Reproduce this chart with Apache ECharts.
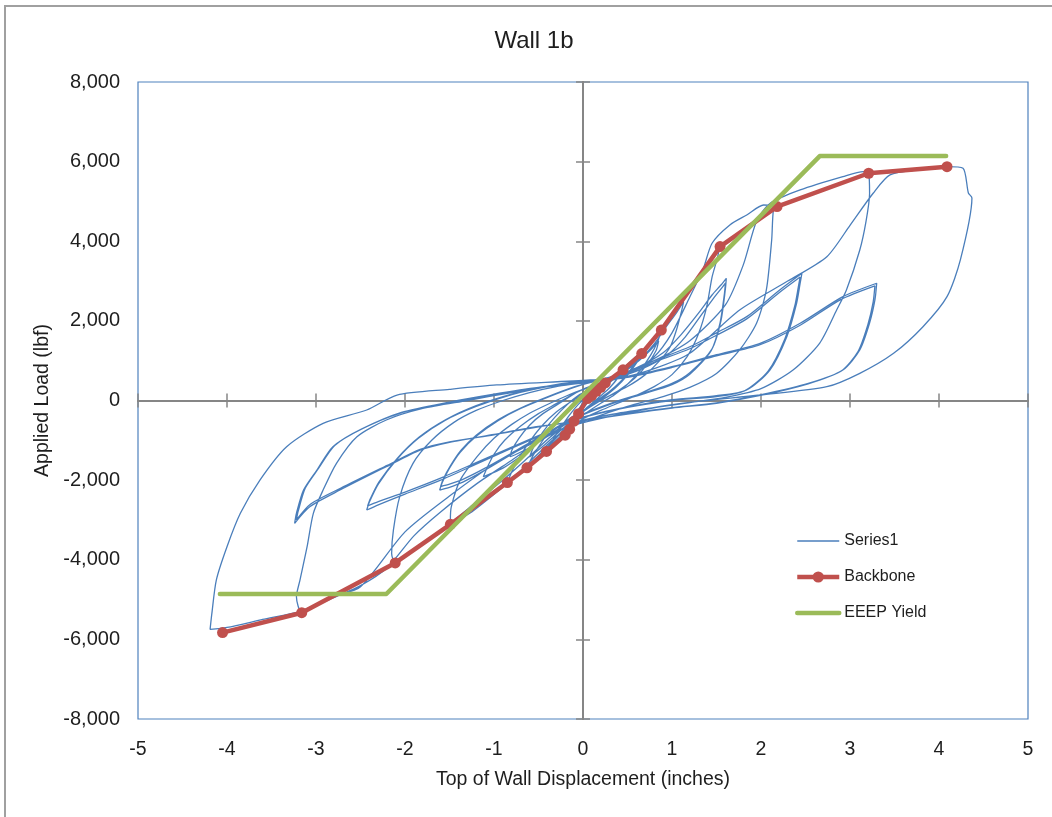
<!DOCTYPE html>
<html>
<head>
<meta charset="utf-8">
<script src="https://cdn.jsdelivr.net/npm/echarts@6/dist/echarts.min.js"></script>
<style>
html,body{margin:0;padding:0;background:#fff;}
#frame{position:absolute;left:4px;top:5px;width:1100px;height:900px;border-left:2px solid #a0a0a0;border-top:2px solid #a0a0a0;}
#chart{position:absolute;left:0;top:0;width:1052px;height:817px;}
</style>
</head>
<body>
<div id="frame"></div>
<div id="chart"></div>
<script>
// ---- Data ----
const chartTitle = "Wall 1b";
const xAxisName = "Top of Wall Displacement (inches)";
const yAxisName = "Applied Load (lbf)";
const seriesNames = ["Series1", "Backbone", "EEEP Yield"];

// Series1: hysteresis trace, cycle by cycle [displacement (in), load (lbf)]
const cycle01 = [[0,0],[0.03,40],[0.06,80],[0.1,130],[0.07,60],[0.03,-30],[0,-120],[-0.05,-330],[-0.1,-520],[-0.07,-380],[-0.03,-180],[0,-30]];
const cycle02 = [[0.05,60],[0.1,130],[0.15,230],[0.2,330],[0.15,190],[0.08,30],[0.02,-110],[-0.05,-360],[-0.1,-550],[-0.15,-700],[-0.11,-500],[-0.05,-240],[0,-50]];
const cycle03 = [[0.06,90],[0.13,180],[0.2,320],[0.25,440],[0.2,290],[0.12,100],[0.04,-90],[-0.04,-310],[-0.12,-610],[-0.2,-870],[-0.15,-630],[-0.08,-330],[0,-70]];
const cycle04 = [[0.08,90],[0.18,230],[0.3,450],[0.38,610],[0.45,770],[0.4,590],[0.3,320],[0.2,120],[0.1,-70],[0,-260],[-0.1,-510],[-0.22,-810],[-0.32,-1060],[-0.41,-1280],[-0.35,-1030],[-0.25,-680],[-0.15,-360],[-0.05,-90]];
const cycle05 = [[0.05,110],[0.15,260],[0.28,460],[0.4,660],[0.52,880],[0.6,1040],[0.66,1180],[0.6,940],[0.5,640],[0.38,350],[0.25,110],[0.12,-90],[0,-290],[-0.12,-530],[-0.25,-830],[-0.4,-1160],[-0.52,-1430],[-0.63,-1690],[-0.56,-1380],[-0.46,-1030],[-0.33,-630],[-0.2,-290],[-0.08,10]];
const cycle06 = [[0.03,200],[0.15,330],[0.3,510],[0.45,750],[0.6,1030],[0.72,1310],[0.8,1530],[0.88,1770],[0.84,1490],[0.76,1140],[0.64,750],[0.5,410],[0.35,140],[0.2,-70],[0.05,-290],[-0.1,-530],[-0.25,-810],[-0.4,-1110],[-0.55,-1430],[-0.7,-1760],[-0.85,-2060],[-0.79,-1740],[-0.7,-1370],[-0.58,-970],[-0.45,-610],[-0.3,-290],[-0.15,-50],[0,160]];
const cycle07 = [[0.12,300],[0.25,460],[0.4,700],[0.52,950],[0.62,1150],[0.6,990],[0.52,730],[0.42,470],[0.3,230],[0.15,-10],[0,-270],[-0.15,-550],[-0.3,-850],[-0.45,-1150],[-0.6,-1420],[-0.55,-1140],[-0.45,-790],[-0.32,-430],[-0.18,-110],[-0.05,130]];
const cycle08 = [[0.1,300],[0.3,520],[0.5,800],[0.7,1250],[0.88,1800],[1.05,2300],[1.2,2800],[1.35,3300],[1.45,3600],[1.54,3865],[1.5,3500],[1.45,3100],[1.39,2360],[1.3,1690],[1.17,1100],[1.0,650],[0.8,350],[0.6,130],[0.4,-60],[0.2,-250],[0,-460],[-0.2,-800],[-0.4,-1200],[-0.6,-1600],[-0.85,-2080],[-1.05,-2450],[-1.25,-2800],[-1.4,-3000],[-1.49,-3110],[-1.49,-3000],[-1.48,-2670],[-1.38,-2000],[-1.19,-1410],[-1.0,-950],[-0.8,-600],[-0.6,-320],[-0.4,-100],[-0.2,100],[0,280]];
const cycle09 = [[0.2,420],[0.4,640],[0.6,950],[0.8,1420],[0.95,1900],[1.05,2200],[1.13,2480],[1.11,2270],[1.05,1770],[0.98,1350],[0.87,1020],[0.7,650],[0.5,350],[0.3,120],[0.1,-120],[-0.1,-380],[-0.3,-700],[-0.5,-1050],[-0.7,-1400],[-0.9,-1700],[-1.05,-1850],[-1.12,-1915],[-1.08,-1700],[-1.0,-1350],[-0.88,-1000],[-0.7,-640],[-0.5,-330],[-0.3,-80],[-0.1,170],[0.05,330]];
const cycle10 = [[0.2,430],[0.4,650],[0.6,950],[0.75,1250],[0.85,1500],[0.82,1250],[0.72,900],[0.58,560],[0.4,250],[0.2,0],[0,-280],[-0.2,-600],[-0.4,-900],[-0.6,-1180],[-0.75,-1350],[-0.82,-1412],[-0.8,-1250],[-0.72,-950],[-0.6,-620],[-0.45,-330],[-0.25,-50],[-0.05,230]];
const cycle11 = [[0.2,420],[0.5,650],[0.8,1100],[1.0,1700],[1.2,2600],[1.35,3300],[1.45,3950],[1.65,4410],[1.84,4660],[2.03,4910],[2.18,4870],[2.14,4786],[2.12,4033],[2.06,2776],[1.95,1940],[1.76,1270],[1.5,680],[1.2,330],[0.9,100],[0.5,-150],[0.1,-450],[-0.3,-800],[-0.6,-1400],[-0.9,-2000],[-1.2,-2550],[-1.5,-3100],[-1.8,-3600],[-2.0,-3900],[-2.11,-4080],[-2.15,-3840],[-2.13,-3250],[-2.06,-2420],[-1.91,-1580],[-1.7,-1000],[-1.45,-550],[-1.2,-250],[-0.9,0],[-0.6,200],[-0.3,350],[0,450]];
const cycle12 = [[0.3,580],[0.6,820],[0.9,1200],[1.1,1650],[1.3,2200],[1.45,2650],[1.55,2900],[1.61,3070],[1.6,2800],[1.55,2000],[1.45,1300],[1.2,700],[1.0,430],[0.7,200],[0.4,0],[0.1,-250],[-0.2,-550],[-0.5,-950],[-0.8,-1350],[-1.1,-1750],[-1.35,-2050],[-1.5,-2180],[-1.61,-2249],[-1.58,-2050],[-1.5,-1700],[-1.38,-1300],[-1.2,-900],[-0.95,-500],[-0.7,-200],[-0.4,80],[-0.1,330],[0.1,460]];
const cycle13 = [[0.35,560],[0.65,780],[0.95,1150],[1.15,1600],[1.32,2120],[1.47,2580],[1.56,2830],[1.6,2950],[1.59,2700],[1.54,1950],[1.44,1250],[1.2,660],[1.0,400],[0.7,180],[0.4,-20],[0.1,-270],[-0.2,-560],[-0.5,-930],[-0.8,-1320],[-1.1,-1700],[-1.35,-1980],[-1.5,-2100],[-1.6,-2160],[-1.57,-1970],[-1.49,-1640],[-1.37,-1250],[-1.2,-870],[-0.95,-480],[-0.7,-190],[-0.4,90],[-0.1,340],[0.1,470]];
const cycle14 = [[0.4,650],[0.8,1000],[1.2,1500],[1.6,2400],[1.8,3400],[1.95,4500],[2.1,4950],[2.44,5290],[2.92,5624],[3.15,5750],[3.21,5708],[3.22,5200],[3.18,4500],[3.11,3780],[2.96,2776],[2.85,2274],[2.66,1444],[2.36,766],[2.0,300],[1.6,80],[1.2,-50],[0.8,-180],[0.4,-320],[0,-500],[-0.4,-900],[-0.8,-1500],[-1.2,-2100],[-1.6,-2800],[-1.9,-3400],[-2.2,-4200],[-2.5,-4650],[-2.8,-4950],[-3.0,-5150],[-3.16,-5330],[-3.22,-4930],[-3.18,-4510],[-3.1,-3673],[-3.03,-2834],[-2.92,-2249],[-2.77,-1578],[-2.54,-910],[-2.21,-490],[-1.8,-200],[-1.3,0],[-0.8,200],[-0.3,380],[0,480]];
const cycle15 = [[0.4,620],[0.8,1000],[1.2,1350],[1.5,1700],[1.84,2106],[2.21,2776],[2.46,3196],[2.44,2945],[2.4,2443],[2.29,1604],[2.1,766],[1.84,264],[1.5,120],[1.0,20],[0.5,-160],[0,-420],[-0.4,-800],[-0.8,-1200],[-1.2,-1600],[-1.6,-2000],[-2.0,-2350],[-2.3,-2620],[-2.43,-2751],[-2.4,-2550],[-2.3,-2100],[-2.1,-1500],[-1.85,-950],[-1.55,-500],[-1.2,-150],[-0.8,150],[-0.4,350],[0,480]];
const cycle16 = [[0.4,600],[0.8,960],[1.2,1300],[1.5,1640],[1.84,2050],[2.2,2700],[2.44,3100],[2.42,2860],[2.38,2380],[2.27,1560],[2.08,740],[1.82,250],[1.5,100],[1.0,0],[0.5,-170],[0,-430],[-0.4,-790],[-0.8,-1170],[-1.2,-1560],[-1.6,-1950],[-2.0,-2300],[-2.3,-2540],[-2.42,-2650],[-2.39,-2470],[-2.29,-2040],[-2.09,-1460],[-1.84,-920],[-1.54,-480],[-1.2,-130],[-0.8,160],[-0.4,360],[0,490]];
const cycle17 = [[0.4,560],[0.8,800],[1.2,1186],[1.76,2274],[2.3,3000],[2.74,3613],[3.0,4400],[3.26,5206],[3.45,5666],[3.8,5800],[4.09,5874],[4.27,5834],[4.33,5213],[4.37,5088],[4.24,3530],[4.09,2608],[3.82,1854],[3.49,1186],[3.11,683],[2.74,347],[1.99,138],[0.98,-113],[-0.03,-573],[-0.5,-1000],[-1.0,-1600],[-1.5,-2400],[-2.0,-3300],[-2.5,-4680],[-2.8,-4930],[-3.17,-5290],[-3.6,-5500],[-4.0,-5700],[-4.19,-5749],[-4.17,-5347],[-4.12,-4510],[-4.0,-3673],[-3.85,-2834],[-3.63,-1997],[-3.33,-1160],[-2.92,-573],[-2.43,-239],[-2.09,138],[-1.5,280],[-0.97,390],[0.08,515]];
const cycle18 = [[0.5,600],[1.0,850],[1.5,1150],[1.99,1437],[2.44,1940],[2.92,2608],[3.3,2945],[3.28,2525],[3.22,1945],[3.11,1270],[2.92,766],[2.55,440],[1.99,138],[1.5,-60],[1.0,-180],[0.5,-330],[0,-500],[-0.5,-650],[-1.0,-850],[-1.5,-1050],[-1.83,-1244],[-2.21,-1663],[-2.73,-2249],[-3.07,-2668],[-3.24,-3085],[-3.22,-2834],[-3.14,-2249],[-2.99,-1746],[-2.81,-1160],[-2.51,-741],[-2.06,-322],[-1.5,-50],[-1.0,150],[-0.5,320],[0,450]];
const cycle19 = [[0.5,580],[1.0,830],[1.5,1120],[1.99,1400],[2.44,1890],[2.9,2540],[3.28,2880],[3.26,2470],[3.2,1900],[3.09,1230],[2.9,740],[2.53,420],[1.98,120],[1.5,-70],[1.0,-190],[0.5,-340],[0,-510],[-0.5,-660],[-1.0,-860],[-1.5,-1040],[-1.83,-1230],[-2.2,-1630],[-2.72,-2200],[-3.06,-2600],[-3.22,-3000],[-3.2,-2780],[-3.12,-2200],[-2.97,-1700],[-2.79,-1130],[-2.49,-720],[-2.04,-300],[-1.5,-40],[-1.0,160],[-0.5,330],[0,440]];

// Backbone envelope [displacement, load]
const backbone = [[-4.05,-5830],[-3.16,-5330],[-2.11,-4080],[-1.49,-3110],[-0.85,-2060],[-0.63,-1690],[-0.41,-1280],[-0.2,-870],[-0.15,-720],[-0.1,-520],[-0.05,-330],[0.05,50],[0.1,130],[0.15,230],[0.2,330],[0.25,440],[0.45,770],[0.66,1180],[0.88,1770],[1.54,3865],[2.18,4870],[3.21,5708],[4.09,5874]];

// EEEP bilinear yield curve [displacement, load]
const eeep = [[-4.08,-4860],[-2.21,-4860],[2.66,6140],[4.08,6140]];

// Axis ranges
const xMin = -5, xMax = 5, xStep = 1;
const yMin = -8000, yMax = 8000, yStep = 2000;

// ---- Chart ----
const series1 = [].concat(cycle01, cycle02, cycle03, cycle04, cycle05, cycle06, cycle07, cycle08, cycle09, cycle10,
  cycle11, cycle12, cycle13, cycle14, cycle15, cycle16, cycle17, cycle18, cycle19);

const FONT = "'Liberation Sans', Arial, sans-serif";
const TXT = '#1e1e1e';
const AX = '#868686';
const C1 = '#4A7EBB', C2 = '#C0504D', C3 = '#9BBB59';

const chart = echarts.init(document.getElementById('chart'), null, {renderer: 'canvas'});

function xAx(extra) {
  return Object.assign({type: 'value', min: xMin, max: xMax, interval: xStep, position: 'bottom', splitLine: {show: false}}, extra);
}
function yAx(extra) {
  return Object.assign({type: 'value', min: yMin, max: yMax, interval: yStep, position: 'left', splitLine: {show: false}}, extra);
}

chart.setOption({
  animation: false,
  backgroundColor: 'transparent',
  title: {
    text: chartTitle, left: 529, top: 24, textAlign: 'center',
    textStyle: {fontFamily: FONT, fontSize: 24, fontWeight: 'normal', color: TXT}
  },
  grid: {left: 138, right: 24, top: 82, bottom: 98, show: true, borderColor: '#4F81BD', borderWidth: 1.2, backgroundColor: 'transparent', containLabel: false},
  legend: {
    orient: 'vertical', left: 790, top: 528, itemWidth: 42, itemHeight: 14, itemGap: 20,
    textStyle: {fontFamily: FONT, fontSize: 16, color: TXT},
    data: [
      {name: seriesNames[0], itemStyle: {opacity: 0}, lineStyle: {width: 1.5, color: C1}},
      {name: seriesNames[1], lineStyle: {width: 4.5, color: C2}},
      {name: seriesNames[2], itemStyle: {opacity: 0}, lineStyle: {width: 4.5, color: C3}}
    ]
  },
  xAxis: [
    xAx({axisLine: {show: false, onZero: false}, axisTick: {show: false},
      axisLabel: {fontFamily: FONT, fontSize: 19.5, color: TXT, margin: 21},
      name: xAxisName, nameLocation: 'middle', nameGap: 51,
      nameTextStyle: {fontFamily: FONT, fontSize: 19.5, color: TXT}}),
    xAx({axisLine: {show: true, onZero: true, onZeroAxisIndex: 0, lineStyle: {color: AX, width: 2}},
      axisTick: {show: true, inside: false, length: 7, lineStyle: {color: AX, width: 1.5}}, axisLabel: {show: false}}),
    xAx({axisLine: {show: true, onZero: true, onZeroAxisIndex: 0, lineStyle: {color: AX, width: 2}},
      axisTick: {show: true, inside: true, length: 7, lineStyle: {color: AX, width: 1.5}}, axisLabel: {show: false}})
  ],
  yAxis: [
    yAx({axisLine: {show: false, onZero: false}, axisTick: {show: false},
      axisLabel: {fontFamily: FONT, fontSize: 20, color: TXT, margin: 18,
        formatter: v => v.toLocaleString('en-US')},
      name: yAxisName, nameLocation: 'middle', nameGap: 82,
      nameTextStyle: {fontFamily: FONT, fontSize: 19.5, color: TXT}}),
    yAx({axisLine: {show: true, onZero: true, onZeroAxisIndex: 0, lineStyle: {color: AX, width: 2}},
      axisTick: {show: true, inside: false, length: 7, lineStyle: {color: AX, width: 1.5}}, axisLabel: {show: false}}),
    yAx({axisLine: {show: true, onZero: true, onZeroAxisIndex: 0, lineStyle: {color: AX, width: 2}},
      axisTick: {show: true, inside: true, length: 7, lineStyle: {color: AX, width: 1.5}}, axisLabel: {show: false}})
  ],
  series: [
    {
      name: seriesNames[0], type: 'line', xAxisIndex: 0, yAxisIndex: 0,
      data: series1, symbol: 'none', smooth: 0.25,
      lineStyle: {color: C1, width: 1.3}, itemStyle: {color: C1}, z: 2
    },
    {
      name: seriesNames[1], type: 'line', xAxisIndex: 0, yAxisIndex: 0,
      data: backbone, symbol: 'circle', symbolSize: 11, showSymbol: true,
      lineStyle: {color: C2, width: 4.5}, itemStyle: {color: C2}, z: 3
    },
    {
      name: seriesNames[2], type: 'line', xAxisIndex: 0, yAxisIndex: 0,
      data: eeep, symbol: 'none',
      lineStyle: {color: C3, width: 4.5, cap: 'round', join: 'round'}, itemStyle: {color: C3}, z: 4
    }
  ]
});
</script>
</body>
</html>
